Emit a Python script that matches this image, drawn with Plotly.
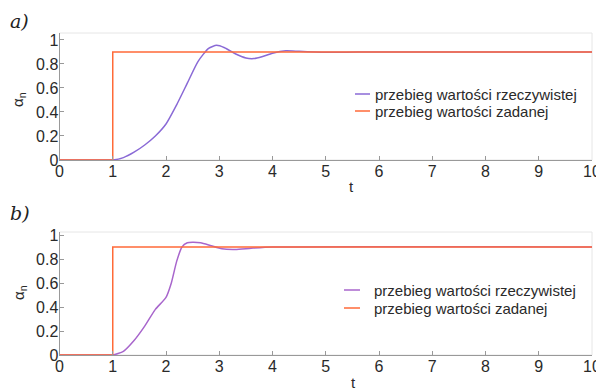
import plotly.graph_objects as go

# ---- data ----
step_t = [0, 1, 1, 10]
step_y = [0, 0, 0.9, 0.9]

a_t = [0, 0.9, 1.0, 1.2, 1.4, 1.6, 1.8, 2.0, 2.2, 2.4, 2.6, 2.8, 2.95, 3.1, 3.3, 3.5, 3.65, 3.8, 4.0, 4.25, 4.5, 4.8, 5.2, 5.6, 10]
a_y = [0, 0, 0, 0.02, 0.065, 0.125, 0.2, 0.3, 0.46, 0.64, 0.82, 0.93, 0.955, 0.935, 0.885, 0.85, 0.845, 0.86, 0.89, 0.91, 0.905, 0.9, 0.897, 0.9, 0.9]

b_t = [0, 0.9, 1.0, 1.2, 1.4, 1.6, 1.8, 2.0, 2.1, 2.2, 2.3, 2.4, 2.5, 2.65, 2.85, 3.05, 3.3, 3.6, 4.0, 10]
b_y = [0, 0, 0, 0.03, 0.12, 0.24, 0.38, 0.48, 0.6, 0.78, 0.9, 0.935, 0.94, 0.935, 0.91, 0.885, 0.88, 0.89, 0.9, 0.9]

x_ticks = [0, 1, 2, 3, 4, 5, 6, 7, 8, 9, 10]
y_ticks = [0, 0.2, 0.4, 0.6, 0.8, 1]
y_ticklabels = ["0", "0.2", "0.4", "0.6", "0.8", "1"]

names = ["przebieg wartości rzeczywistej", "przebieg wartości zadanej"]

PURPLE_A = "#8a6ad6"
PURPLE_B = "#a866cc"
ORANGE = "#ff6a38"
FONT = "Liberation Sans, Arial"
TXT = "#2a2a2a"

# page offset (default body margin) and visible figure size
OFF = 8
W, H = 604 - OFF, 391 - OFF

def px(x):
    return (x - OFF) / W

def py(y):
    return (H - (y - OFF)) / H

fig = go.Figure()

fig.add_trace(go.Scatter(x=a_t, y=a_y, mode="lines", name=names[0], line=dict(color=PURPLE_A, width=1.5, shape="spline", smoothing=0.6), xaxis="x", yaxis="y"))
fig.add_trace(go.Scatter(x=step_t, y=step_y, mode="lines", name=names[1], line=dict(color=ORANGE, width=1.5), xaxis="x", yaxis="y"))
fig.add_trace(go.Scatter(x=b_t, y=b_y, mode="lines", name=names[0], line=dict(color=PURPLE_B, width=1.5, shape="spline", smoothing=0.6), xaxis="x2", yaxis="y2"))
fig.add_trace(go.Scatter(x=step_t, y=step_y, mode="lines", name=names[1], line=dict(color=ORANGE, width=1.5), xaxis="x2", yaxis="y2"))

tickfont = dict(family=FONT, size=16, color=TXT)
xdom = [px(59.5), px(592)]
ydom_a = [py(160), py(33)]
ydom_b = [py(355), py(232)]

def xaxis(anchor):
    return dict(domain=xdom, range=[0, 10], tickvals=x_ticks, ticks="inside", ticklen=4,
                tickcolor="#999999", showline=True, linecolor="#999999", linewidth=1,
                showgrid=False, zeroline=False, tickfont=tickfont, anchor=anchor, automargin=False,
                ticklabelstandoff=-3)

def yaxis(dom, top, anchor):
    return dict(domain=dom, range=[0, top], tickvals=y_ticks, ticktext=y_ticklabels, ticks="inside",
                ticklen=4, tickcolor="#999999", showline=True, linecolor="#999999", linewidth=1,
                showgrid=False, zeroline=False, tickfont=tickfont, anchor=anchor, automargin=False,
                ticklabelstandoff=-3)

shapes = [
    dict(type="rect", xref="paper", yref="paper", x0=xdom[0], x1=xdom[1], y0=ydom_a[0], y1=ydom_a[1],
         line=dict(color="#e6e6e6", width=1), layer="below"),
    dict(type="rect", xref="paper", yref="paper", x0=xdom[0], x1=xdom[1], y0=ydom_b[0], y1=ydom_b[1],
         line=dict(color="#e6e6e6", width=1), layer="below"),
]

def note(text, x, y, size=15, family=FONT, color=TXT, angle=0, xanchor="center"):
    return dict(text=text, x=px(x), y=py(y), xref="paper", yref="paper", xanchor=xanchor, yanchor="middle",
                textangle=angle, showarrow=False, font=dict(family=family, size=size, color=color))

annotations = [
    note("<i>a)</i>", 8, 21, size=19, family="DejaVu Serif, Liberation Serif", color="#222222", xanchor="left"),
    note("<i>b)</i>", 8, 213, size=19, family="DejaVu Serif, Liberation Serif", color="#222222", xanchor="left"),
    note("α<sub>n</sub>", 19, 100, angle=-90),
    note("α<sub>n</sub>", 19, 293, angle=-90),
    note("t", 351, 186),
    note("t", 353, 382),
]

# legends (line samples + labels)
legend_rows = [
    (355, 370, 373, [94, 111], [PURPLE_A, ORANGE]),
    (344, 360, 372, [290, 308], [PURPLE_B, ORANGE]),
]
for x0, x1, xt, ys, cols in legend_rows:
    for name, yy, c in zip(names, ys, cols):
        shapes.append(dict(type="line", xref="paper", yref="paper", x0=px(x0), x1=px(x1), y0=py(yy), y1=py(yy),
                           line=dict(color=c, width=1.5)))
        annotations.append(note(name, xt, yy, xanchor="left"))

fig.update_layout(
    width=W, height=H,
    margin=dict(l=0, r=0, t=0, b=0, autoexpand=False),
    paper_bgcolor="white", plot_bgcolor="white",
    xaxis=xaxis("y"),
    yaxis=yaxis(ydom_a, 1.058, "x"),
    xaxis2=xaxis("y2"),
    yaxis2=yaxis(ydom_b, 1.025, "x2"),
    showlegend=False,
    shapes=shapes,
    annotations=annotations,
)

fig.write_html("out.html")
